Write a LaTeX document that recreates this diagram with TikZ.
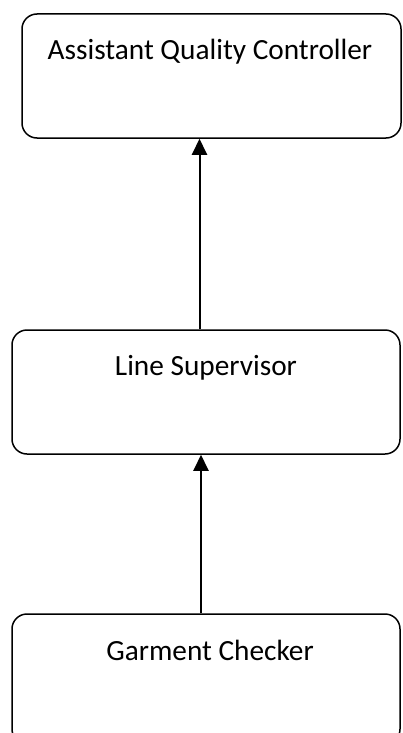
\documentclass[tikz,border=0pt]{standalone}
\usepackage{fontspec}
\setmainfont{Carlito}
\usetikzlibrary{arrows.meta}
\begin{document}
\begin{tikzpicture}[x=1pt,y=-1pt,
  box/.style={draw=black,line width=1.5pt,rounded corners=15pt,inner sep=0pt},
  lbl/.style={font=\fontsize{29.3}{34}\selectfont,anchor=base,inner sep=0pt},
  arr/.style={line width=2pt,-{Triangle[width=15pt,length=16pt]}}]
\useasboundingbox (0,0) rectangle (403,733);
\node[box,minimum width=379pt,minimum height=124pt] (aqc) at (211.5,76) {};
\node[box,minimum width=388pt,minimum height=124pt] (ls) at (206,392) {};
\node[box,minimum width=388pt,minimum height=130pt] (gc) at (206,679) {};
\node[lbl] (t1) at (210,60) {Assistant Quality Controller};
\node[lbl] (t2) at (206,375) {Line Supervisor};
\node[lbl] (t3) at (210,660) {Garment Checker};
\coordinate (a1) at (199.5,0);
\coordinate (a2) at (201,0);
\draw[arr] (ls.north -| a1) -- (aqc.south -| a1);
\draw[arr] (gc.north -| a2) -- (ls.south -| a2);
\end{tikzpicture}
\end{document}
